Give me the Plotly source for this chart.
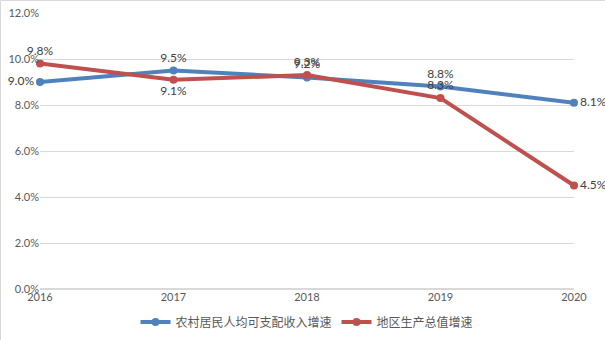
import plotly.graph_objects as go

years = ["2016", "2017", "2018", "2019", "2020"]
rural_income_growth = [9.0, 9.5, 9.2, 8.8, 8.1]
gdp_growth = [9.8, 9.1, 9.3, 8.3, 4.5]
y_ticks = [0, 2, 4, 6, 8, 10, 12]

xs = list(range(len(years)))

W, H = 605, 340
ML, MR, MT, MB = 40, 31, 13, 51
PW, PH = W - ML - MR, H - MT - MB

fig = go.Figure()
fig.add_trace(go.Scatter(
    x=xs, y=rural_income_growth, name="农村居民人均可支配收入增速",
    mode="lines+markers+text",
    line=dict(color="#4F81BD", width=4),
    marker=dict(color="#4F81BD", size=8),
    text=[f"{v:.1f}%" for v in rural_income_growth],
    textposition=["middle left", "top center", "top center", "top center", "middle right"],
    textfont=dict(family="Lato, Noto Sans", size=12, color="#404040"),
    cliponaxis=False,
))
fig.add_trace(go.Scatter(
    x=xs, y=gdp_growth, name="地区生产总值增速",
    mode="lines+markers+text",
    line=dict(color="#C0504D", width=4),
    marker=dict(color="#C0504D", size=8),
    text=[f"{v:.1f}%" for v in gdp_growth],
    textposition=["top center", "bottom center", "top center", "top center", "middle right"],
    textfont=dict(family="Lato, Noto Sans", size=12, color="#404040"),
    cliponaxis=False,
))

# chart-area border (left and top edges visible)
x_left = -(ML - 0.5) / PW
y_top = 1 + (MT - 0.5) / PH
fig.add_shape(type="line", xref="paper", yref="paper",
              x0=x_left, x1=x_left, y0=-MB / PH, y1=y_top,
              line=dict(color="#D9D9D9", width=1))
fig.add_shape(type="line", xref="paper", yref="paper",
              x0=x_left, x1=1 + MR / PW, y0=y_top, y1=y_top,
              line=dict(color="#D9D9D9", width=1))

fig.update_layout(
    width=W, height=H,
    margin=dict(l=ML, r=MR, t=MT, b=MB, autoexpand=False),
    paper_bgcolor="white", plot_bgcolor="white",
    font=dict(family="Lato, Noto Sans CJK SC", size=11, color="#595959"),
    showlegend=True,
    legend=dict(orientation="h", x=0.5, xanchor="center",
                yref="container", y=18 / 340, yanchor="middle",
                font=dict(family="Noto Sans CJK SC", size=12, color="#595959")),
)
fig.update_xaxes(
    tickmode="array", tickvals=xs, ticktext=years, range=[0, len(years) - 1],
    showgrid=False, zeroline=False, showline=False, ticks="",
    tickfont=dict(size=11, color="#595959"), automargin=False,
)
fig.update_yaxes(
    tickmode="array", tickvals=y_ticks, ticktext=[f"{v:.1f}%" for v in y_ticks],
    range=[0, 12], showgrid=True, gridcolor="#D9D9D9", gridwidth=1,
    zeroline=True, zerolinecolor="#D9D9D9", showline=False, ticks="",
    tickfont=dict(size=11, color="#595959"), automargin=False,
)

fig.write_html("out.html")
